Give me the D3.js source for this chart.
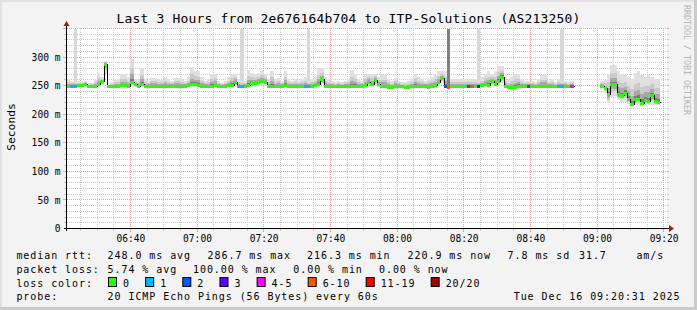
<!DOCTYPE html>
<html><head><meta charset="utf-8">
<script src="https://cdn.jsdelivr.net/npm/d3@7"></script>
<style>html,body{margin:0;padding:0;background:#f3f3f3;}svg{display:block;}</style>
</head><body><svg id="c" width="697" height="310"></svg>
<script>
// ---------------- DATA ----------------
const startTime = new Date(2025, 11, 16, 6, 21);
const endTime = new Date(2025, 11, 16, 9, 21);
const titleText = "Last 3 Hours from 2e676164b704 to ITP-Solutions (AS213250)";
const yTicks = [0, 50, 100, 150, 200, 250, 300];
const yMax = 350;
// one value per minute starting 06:21 (ms), null = no data
const medianRtt = [
 249,249,249,250,251,252,249,249,249,252,
 257,287,249,248,249,249,250,250,249,255,
 252,249,252,249,249,249,249,249,249,249,
 249,249,249,249,249,249,250,252,252,250,
 249,249,249,249,250,249,249,249,250,251,
 256,249,248,249,251,253,254,255,258,256,
 249,249,249,249,249,250,249,249,249,249,
 249,249,249,249,250,252,260,249,249,249,
 249,249,249,249,249,249,249,249,249,250,
 256,252,259,252,249,249,247,247,249,249,
 249,247,247,249,249,249,249,249,247,249,
 251,255,263,249,247,249,249,249,249,249,
 249,249,249,249,250,252,251,257,252,258,
 265,249,247,247,247,249,249,249,249,249,
 249,249,249,249,249,249,249,249,249,249,
 249,249,null,null,null,null,null,null,null,null,
 249,245,234,252,252,234,232,237,226,216.3,
 225,226,219,224,222,232,222,220.9,null,null
];
const maxRtt = [
 262,258,258,258,256,258,254,255,260,272,
 266,294,252,256,260,262,270,270,265,297,
 262,262,281,262,258,263,263,262,260,265,
 262,258,263,263,262,258,265,282,276,276,
 265,258,262,271,271,258,255,258,265,271,
 271,262,258,258,277,272,270,272,275,270,
 262,276,262,263,258,276,262,258,262,258,
 262,265,258,262,265,280,280,265,262,258,
 256,258,256,258,262,277,270,262,258,270,
 271,271,271,265,268,268,262,258,263,258,
 256,256,258,262,270,265,262,258,262,265,
 268,275,276,276,258,262,262,262,262,262,
 260,262,262,258,265,270,275,270,275,284,
 284,265,260,265,270,270,262,258,258,258,
 256,262,268,268,258,262,256,262,258,258,
 256,258,null,null,null,null,null,null,null,null,
 258,260,270,287,287,275,270,268,266,262,
 272,275,268,265,268,266,262,262,null,null
];
const minRtt = [
 248,248,248,248,248,248,248,248,248,248,
 250,270,248,247,248,248,248,248,248,248,
 248,248,248,248,248,248,248,248,248,248,
 248,248,248,248,248,248,248,248,248,248,
 248,248,248,248,248,248,248,248,248,248,
 249,248,247,248,248,248,249,250,252,250,
 248,248,248,248,248,248,248,248,248,248,
 248,248,248,248,248,249,252,248,248,248,
 248,248,248,248,248,248,248,248,248,248,
 250,248,250,248,248,248,246,246,248,248,
 248,246,246,248,248,248,248,248,246,248,
 248,250,254,248,246,248,248,248,248,248,
 248,248,248,248,248,248,248,250,248,250,
 255,248,246,246,246,248,248,248,248,248,
 248,248,248,248,248,248,248,248,248,248,
 248,248,null,null,null,null,null,null,null,null,
 244,238,220,230,232,225,222,222,218,215,
 216,216,215,216,216,216,216,216,null,null
];
const lossCount = [
 0,1,1,0,0,0,0,0,0,0, 0,0,0,0,0,0,0,0,0,0,
 0,0,0,0,0,0,0,0,0,0, 0,0,0,0,0,0,0,0,0,0,
 0,0,0,0,0,0,0,0,0,0, 0,1,1,0,0,0,0,0,0,0,
 0,0,0,0,0,0,0,0,0,0, 0,1,1,0,0,0,0,0,0,0,
 0,0,0,0,0,0,0,0,0,0, 0,0,0,0,0,0,0,0,0,0,
 0,0,0,0,0,0,0,0,0,0, 0,0,0,2,8,0,0,0,0,0,
 2,8,0,3,0,0,0,0,0,0, 0,0,0,0,0,0,0,0,2,0,
 0,0,0,0,0,0,0,1,1,0, 0,5,0,0,0,0,0,0,0,0,
 0,0,0,0,0,0,0,0,0,0, 0,0,0,0,0,0,0,0,0,0
];
const lightOutlierMinutes = [2, 52, 72, 123, 148];
const darkOutlierMinutes = [114];
const lossLabels = ["0", "1", "2", "3", "4-5", "6-10", "11-19", "20/20"];
const lossUpper = [0, 1, 2, 3, 5, 10, 19, 20];
const lossColors = ["#26ff00", "#00b8ff", "#0059ff", "#5e00ff", "#ff00ff", "#ff5500", "#ff0000", "#a10000"];
const rttStats = ["248.0 ms avg", "286.7 ms max", "216.3 ms min", "220.9 ms now", "7.8 ms sd", "31.7", "am/s"];
const lossStats = ["5.74 % avg", "100.00 % max", "0.00 % min", "0.00 % now"];
const probeText = "20 ICMP Echo Pings (56 Bytes) every 60s";
const stampText = "Tue Dec 16 09:20:31 2025";
const watermark = "RRDTOOL / TOBI OETIKER";

// ---------------- DRAW ----------------
const W = 697, H = 310;
const MONO = "'DejaVu Sans Mono', monospace";
const svg = d3.select("#c");
svg.append("rect").attr("width", W).attr("height", H).attr("fill", "#f3f3f3");
svg.append("rect").attr("x", 0).attr("y", 0).attr("width", W).attr("height", 2).attr("fill", "#e2e2e2");
svg.append("rect").attr("x", 0).attr("y", 0).attr("width", 2).attr("height", H).attr("fill", "#e2e2e2");
svg.append("rect").attr("x", W - 3).attr("y", 0).attr("width", 3).attr("height", H).attr("fill", "#cbcbcb");
svg.append("rect").attr("x", 0).attr("y", H - 3).attr("width", W).attr("height", 3).attr("fill", "#cbcbcb");

const x = d3.scaleTime().domain([startTime, endTime]).range([67, 667]);
const y = d3.scaleLinear().domain([0, yMax]).range([228.5, 28.5]);
const tAt = i => d3.timeMinute.offset(startTime, i);
const px = i => Math.round(x(tAt(i)));

svg.append("rect").attr("x", 67).attr("y", 28).attr("width", 600).attr("height", 200).attr("fill", "#ffffff");

const MINOR = "#c8c8c8", MAJOR = "#f2a0a0";
// dotted grid lines built from explicit 1px dots
const dotsH = (yy) => { let d = ""; for (let xx = 67; xx < 667; xx += 2) d += `M${xx},${yy}h1v1h-1z`; return d; };
const dotsV = (xx) => { let d = ""; for (let yy = 28; yy < 228; yy += 2) d += `M${xx},${yy}h1v1h-1z`; return d; };
const grid = svg.append("g").attr("shape-rendering", "crispEdges");
d3.range(10, yMax + 1, 10).forEach(v => {
  const yy = Math.floor(y(v));
  const major = v % 50 === 0;
  const c = major ? MAJOR : MINOR;
  grid.append("path").attr("d", dotsH(yy)).attr("fill", c);
  grid.append("rect").attr("x", 667).attr("y", yy).attr("width", 2).attr("height", 1).attr("fill", c);
  grid.append("rect").attr("x", major ? 63 : 64).attr("y", yy).attr("width", major ? 3 : 2).attr("height", 1).attr("fill", c);
});
const fiveMin = d3.timeMinute.range(startTime, endTime).filter(t => t.getMinutes() % 5 === 0);
fiveMin.forEach(t => {
  const xx = Math.floor(x(t));
  const major = t.getMinutes() % 20 === 0;
  const c = major ? MAJOR : MINOR;
  grid.append("path").attr("d", dotsV(xx)).attr("fill", c);
  grid.append("rect").attr("x", xx).attr("y", 229).attr("width", 1).attr("height", major ? 3 : 2).attr("fill", c);
});

// smoke
const smoke = svg.append("g").attr("shape-rendering", "crispEdges");
const bands = [[1, "#e0e0e0"], [0.6, "#cacaca"], [0.35, "#a8a8a8"], [0.15, "#7a7a7a"]];
medianRtt.forEach((m, i) => {
  if (m == null) return;
  const x0 = px(i), w = px(i + 1) - x0;
  const hi = maxRtt[i], lo = minRtt[i];
  bands.forEach(([f, col]) => {
    const top = m + (hi - m) * f, bot = m - (m - lo) * f;
    const y0 = Math.round(y(top)), y1 = Math.round(y(bot));
    smoke.append("rect").attr("x", x0).attr("width", w).attr("y", y0).attr("height", Math.max(1, y1 - y0)).attr("fill", col);
  });
});
lightOutlierMinutes.forEach(i => {
  const x0 = px(i), w = px(i + 1) - x0;
  smoke.append("rect").attr("x", x0).attr("width", w).attr("y", Math.round(y(yMax)))
    .attr("height", Math.round(y(maxRtt[i])) - Math.round(y(yMax))).attr("fill", "#d8d8d8");
});
darkOutlierMinutes.forEach(i => {
  const x0 = px(i), w = px(i + 1) - x0;
  smoke.append("rect").attr("x", x0).attr("width", w).attr("y", Math.round(y(yMax)))
    .attr("height", Math.round(y(medianRtt[i])) - Math.round(y(yMax))).attr("fill", "#808080");
});

// median black step line
const pts = [];
medianRtt.forEach((m, i) => {
  if (m == null) { pts.push({ t: tAt(i), v: null }); return; }
  pts.push({ t: tAt(i), v: m });
  if (i === medianRtt.length - 1 || medianRtt[i + 1] == null) pts.push({ t: tAt(i + 1), v: m });
});
svg.append("path").datum(pts)
  .attr("d", d3.line().defined(d => d.v != null).x(d => Math.round(x(d.t)) + 0.5).y(d => Math.floor(y(d.v)) + 0.5).curve(d3.curveStepAfter))
  .attr("fill", "none").attr("stroke", "#000").attr("stroke-width", 1).attr("shape-rendering", "crispEdges");

// loss-colored median segments
const lossColor = n => lossColors[lossUpper.findIndex(u => n <= u)];
const seg = svg.append("g").attr("shape-rendering", "crispEdges");
medianRtt.forEach((m, i) => {
  if (m == null) return;
  const x0 = px(i), w = px(i + 1) - x0;
  seg.append("rect").attr("x", x0).attr("width", w).attr("y", Math.floor(y(m)) - 1).attr("height", 3)
    .attr("fill", lossColor(lossCount[i]));
});

// axes
const axes = svg.append("g").attr("shape-rendering", "crispEdges");
axes.append("rect").attr("x", 64).attr("y", 228).attr("width", 605).attr("height", 1).attr("fill", "#000");
axes.append("rect").attr("x", 66).attr("y", 25).attr("width", 1).attr("height", 206).attr("fill", "#000");
svg.append("path").attr("d", "M669,225 L674,228.5 L669,232 Z").attr("fill", "#9b1c1c");
svg.append("path").attr("d", "M63.5,26 L66.5,21 L69.5,26 Z").attr("fill", "#9b1c1c");

const xAxis = d3.axisBottom(x)
  .tickValues(fiveMin.filter(t => t.getMinutes() % 20 === 0))
  .tickFormat(d3.timeFormat("%H:%M")).tickSize(0).tickPadding(6.8);
const gx = svg.append("g").attr("transform", "translate(0,228)").call(xAxis);
gx.select(".domain").remove();
gx.selectAll("line").remove();
gx.selectAll("text").attr("font-family", MONO).attr("font-size", "9.6px").attr("fill", "#000");

const yAxis = d3.axisLeft(y).tickValues(yTicks).tickFormat(v => v === 0 ? "0" : v + " m").tickSize(0).tickPadding(6.5);
const gy = svg.append("g").attr("transform", "translate(67,0)").call(yAxis);
gy.select(".domain").remove();
gy.selectAll("line").remove();
gy.selectAll("text").attr("font-family", MONO).attr("font-size", "9.6px").attr("fill", "#000");

// title
svg.append("text").attr("x", 348.5).attr("y", 23).attr("text-anchor", "middle")
  .attr("font-family", MONO).attr("font-size", "13px").attr("letter-spacing", "0.17px").attr("fill", "#000").text(titleText);
// y label
svg.append("text").attr("transform", "translate(15,127) rotate(-90)").attr("text-anchor", "middle")
  .attr("font-family", MONO).attr("font-size", "11.3px").attr("fill", "#000").text("Seconds");
// watermark
svg.append("text").attr("transform", "translate(684,5) rotate(90)")
  .attr("font-family", MONO).attr("font-size", "8.3px").attr("fill", "#b4b4b4").text(watermark);

// legend
const lg = svg.append("g").attr("font-family", MONO).attr("font-size", "10px").attr("letter-spacing", "0.93px").attr("fill", "#000");
const row = (yy, items) => items.forEach(([xx, s, anchor]) =>
  lg.append("text").attr("x", xx).attr("y", yy).attr("text-anchor", anchor || "start").text(s));
row(259.3, [[16.4, "median rtt:"], [107.6, rttStats[0]], [207.6, rttStats[1]], [307.1, rttStats[2]],
  [407.6, rttStats[3]], [507.6, rttStats[4]], [579, rttStats[5]], [636.4, rttStats[6]]]);
row(272.9, [[16.4, "packet loss:"], [107.6, lossStats[0]], [193, lossStats[1]], [293.3, lossStats[2]], [379, lossStats[3]]]);
row(286.5, [[16.4, "loss color:"]]);
row(300, [[16.4, "probe:"], [107.6, probeText], [680.5, stampText, "end"]]);
let bx = 108;
lossLabels.forEach((lab, k) => {
  lg.append("rect").attr("x", bx + 0.5).attr("y", 277.5).attr("width", 8).attr("height", 9)
    .attr("fill", lossColors[k]).attr("stroke", "#000").attr("stroke-width", 1);
  const t = lg.append("text").attr("x", bx + 15).attr("y", 286.5).text(lab);
  bx = bx + 15 + t.node().getComputedTextLength() + 15.2;
});
</script></body></html>
